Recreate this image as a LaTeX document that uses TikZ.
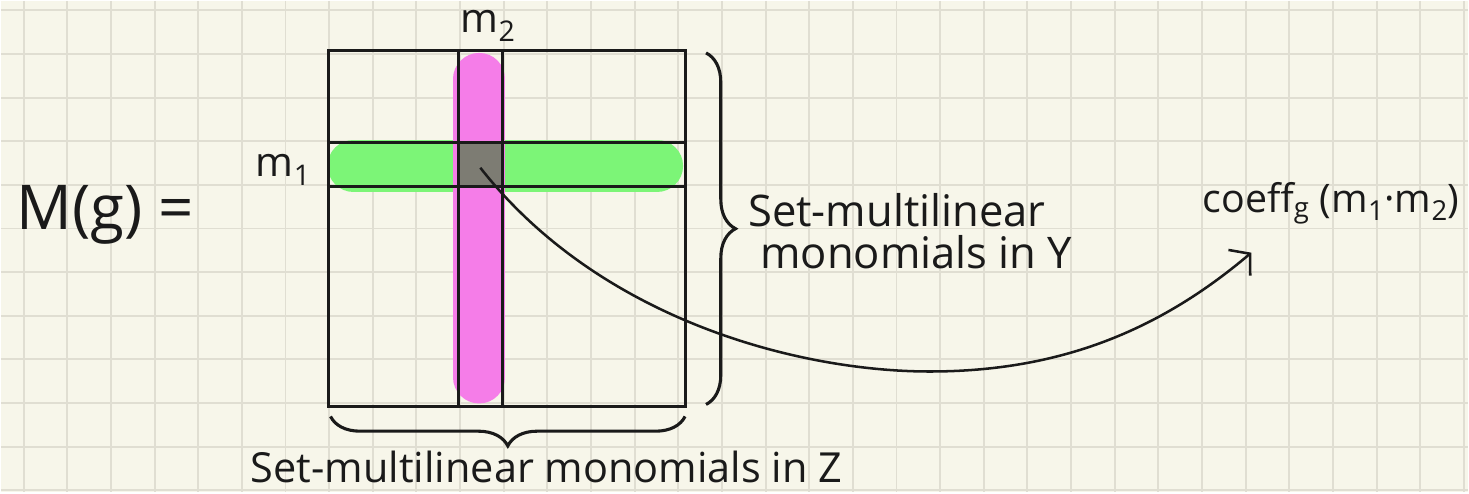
\documentclass[tikz,border=0pt]{standalone}
\usepackage{fontspec}
\setmainfont{Open Sans}
\usetikzlibrary{decorations.pathreplacing,arrows.meta}
\definecolor{paper}{HTML}{F7F6EA}
\definecolor{gridline}{HTML}{E0DED2}
\definecolor{marker}{HTML}{1A1A1A}
\definecolor{hlgreen}{HTML}{7CF577}
\definecolor{hlpink}{HTML}{F57DE8}
\definecolor{hlgray}{HTML}{7D7C73}

\begin{document}
\begin{tikzpicture}[x=0.025cm,y=-0.025cm,
  point/.style={coordinate},
  hand/.style={inner sep=0pt, text=marker, font=\fontsize{30}{36}\selectfont},
  rule/.style={draw=marker, line width=2.1pt},
  curly/.style={draw=marker, line width=2.2pt, decorate, decoration={brace, amplitude=21pt}},
  hl/.style={line width=37pt, line cap=round},
  arrowline/.style={draw=marker, line width=1.8pt, -{Straight Barb[length=10pt,width=24pt]}}]
% paper
\fill[paper] (0,0) rectangle (1469,492);
\foreach \k in {0,...,33}
  \draw[gridline, line width=1.4pt] (22.7+43.7*\k,0) -- (22.7+43.7*\k,492);
\foreach \k in {0,...,11}
  \draw[gridline, line width=1.4pt] (0,9.3+43.7*\k) -- (1469,9.3+43.7*\k);
\node[point] (nw) at (328,50)  {};
\node[point] (ne) at (685,50)  {};
\node[point] (sw) at (328,406) {};
\node[point] (se) at (685,406) {};
\node[point] (cell) at (480,167) {};
\node[point] (low) at (930,371) {};
\node[point] (tip) at (1252,252) {};
% highlighted row and column
\draw[hl, hlgreen] (353,165) -- (657,165);
\draw[hl, hlpink] (479,78) -- (479,377);
\fill[hlgray] (458,142) rectangle (502,186);
% matrix
\draw[rule] (nw) rectangle (se);
\draw[rule] (458,50) -- (458,406);
\draw[rule] (502,50) -- (502,406);
\draw[rule] (328,142) -- (685,142);
\draw[rule] (328,186) -- (685,186);
\draw[curly] (706,52) -- (706,404);
\draw[curly] (685,416) -- (330,416);
% labels
\node[hand, anchor=base west, font=\fontsize{44}{50}\selectfont] (lhs) at (15,229) {M(g) =};
\node[hand, anchor=base west, font=\fontsize{29}{34}\selectfont] (mone) at (255,176) {m\textsubscript{1}};
\node[hand, anchor=base west, font=\fontsize{29}{34}\selectfont] (mtwo) at (460,32) {m\textsubscript{2}};
\node[hand, anchor=base west, font=\fontsize{31}{36}\selectfont] (rowsa) at (748,226) {Set-multilinear};
\node[hand, anchor=base west, font=\fontsize{31}{36}\selectfont] (rowsb) at (760,268) {monomials in Y};
\node[hand, anchor=base west, font=\fontsize{28}{32}\selectfont] (coeff) at (1203,212) {coeff\textsubscript{g} (m\textsubscript{1}·m\textsubscript{2})};
\node[hand, anchor=base west, font=\fontsize{29.5}{34}\selectfont] (cols) at (250,482) {Set-multilinear monomials in Z};
\draw[arrowline] (cell) .. controls (600,320) and (800,371) .. (low)
  .. controls (1060,371) and (1160,330) .. (tip);
\end{tikzpicture}
\end{document}
